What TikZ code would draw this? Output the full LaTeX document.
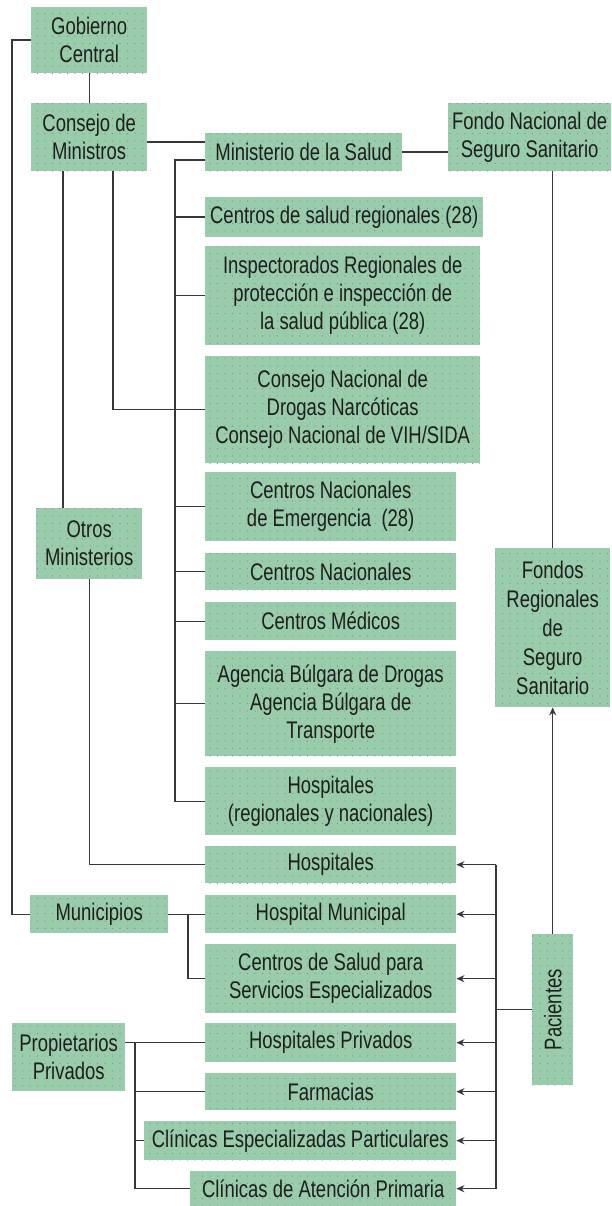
\documentclass[tikz,border=0pt]{standalone}
\usepackage{fontspec}
\usepackage{graphicx}
\setmainfont{Liberation Sans}[FakeStretch=0.77]
\usetikzlibrary{patterns.meta,arrows.meta,calc}
\definecolor{boxg}{RGB}{152,204,170}
\definecolor{dotc}{RGB}{140,135,155}
\definecolor{linec}{RGB}{55,55,55}
\definecolor{txt}{RGB}{30,30,30}
\tikzset{
  orgbox/.style={anchor=north west, inner sep=0pt, align=center, fill=boxg, text=txt,
    font=\fontsize{24}{28}\selectfont,
    postaction={pattern={Dots[distance=7.5pt,radius=0.7pt]}, pattern color=dotc}},
  conn/.style={draw=linec, line width=1.4pt},
  arr/.style={conn, -{Stealth[length=8pt,width=7pt]}},
}
\begin{document}
\begin{tikzpicture}[x=1pt,y=-1pt]
\useasboundingbox (0,0) rectangle (611,1206);
% boxes
\node[orgbox, minimum width=116pt, minimum height=66pt] (gob) at (31,7) {Gobierno\\Central};
\node[orgbox, minimum width=116pt, minimum height=68pt] (cons) at (31,103) {Consejo de\\Ministros};
\node[orgbox, minimum width=197pt, minimum height=38pt] (min) at (205,133) {Ministerio de la Salud};
\node[orgbox, minimum width=163pt, minimum height=68pt] (fondo) at (448,103) {Fondo Nacional de\\Seguro Sanitario};
\node[orgbox, minimum width=278pt, minimum height=40pt] (csr) at (205,197) {Centros de salud regionales (28)};
\node[orgbox, minimum width=275pt, minimum height=99pt] (insp) at (205,246) {Inspectorados Regionales de\\protección e inspección de\\la salud pública (28)};
\node[orgbox, minimum width=275pt, minimum height=107pt] (cnd) at (205,356) {Consejo Nacional de\\Drogas Narcóticas\\Consejo Nacional de VIH/SIDA};
\node[orgbox, minimum width=251pt, minimum height=69pt] (cne) at (205,472) {Centros Nacionales\\de Emergencia~ (28)};
\node[orgbox, minimum width=251pt, minimum height=37pt] (cn) at (205,553) {Centros Nacionales};
\node[orgbox, minimum width=251pt, minimum height=38pt] (cm) at (205,602) {Centros Médicos};
\node[orgbox, minimum width=251pt, minimum height=105pt] (abd) at (205,651) {Agencia Búlgara de Drogas\\Agencia Búlgara de\\Transporte};
\node[orgbox, minimum width=251pt, minimum height=68pt] (hrn) at (205,767) {Hospitales\\(regionales y nacionales)};
\node[orgbox, minimum width=251pt, minimum height=37pt] (hosp) at (205,846) {Hospitales};
\node[orgbox, minimum width=251pt, minimum height=38pt] (hmun) at (205,895) {Hospital Municipal};
\node[orgbox, minimum width=251pt, minimum height=69pt] (csse) at (205,944) {Centros de Salud para\\Servicios Especializados};
\node[orgbox, minimum width=251pt, minimum height=39pt] (hpriv) at (205,1023) {Hospitales Privados};
\node[orgbox, minimum width=251pt, minimum height=37pt] (farm) at (205,1073) {Farmacias};
\node[orgbox, minimum width=312pt, minimum height=39pt] (cesp) at (144,1121) {Clínicas Especializadas Particulares};
\node[orgbox, minimum width=266pt, minimum height=35pt] (cap) at (190,1171) {Clínicas de Atención Primaria};
\node[orgbox, minimum width=106pt, minimum height=71pt] (otros) at (36,508) {Otros\\Ministerios};
\node[orgbox, minimum width=138pt, minimum height=38pt] (mun) at (30,895) {Municipios};
\node[orgbox, minimum width=113pt, minimum height=68pt] (prop) at (12,1023) {Propietarios\\Privados};
\node[orgbox, minimum width=115pt, minimum height=159pt, font=\fontsize{24}{29}\selectfont] (fr) at (495,548) {Fondos\\Regionales\\de\\Seguro\\Sanitario};
\node[orgbox, minimum width=41pt, minimum height=151pt] (pac) at (532,934) {\rotatebox{90}{Pacientes}};
% helper coordinates
\coordinate (lb) at (12,38);
\coordinate (cx1) at (63,171);
\coordinate (cx2) at (113,171);
\coordinate (cy) at (0,142);
\coordinate (mtop) at (0,160);
\coordinate (mbus) at (175,160);
\coordinate (mb) at (188,914);
\coordinate (pb) at (135,1041);
\coordinate (rb) at (496,1010);
% connectors
\draw[conn] (gob.west) -- (gob.west -| lb) -- (lb |- mun.west) -- (mun.west);
\draw[conn] (gob.south) -- (cons.north);
\draw[conn] (cons.east |- cy) -- (min.west |- cy);
\draw[conn] (min.west |- mtop) -- (mbus) -- (mbus |- hrn.west) -- (hrn.west);
\foreach \n in {csr,insp,cnd,cne,cn,cm,abd} \draw[conn] (mbus |- \n.west) -- (\n.west);
\draw[conn] (cons.south -| cx1) -- (otros.north -| cx1);
\draw[conn] (cons.south -| cx2) -- (cx2 |- cnd.west) -- (mbus |- cnd.west);
\draw[conn] (otros.south) -- (otros.south |- hosp.west) -- (hosp.west);
\draw[conn] (mun.east) -- (hmun.west);
\draw[conn] (mb) -- (mb |- csse.west) -- (csse.west);
\draw[conn] (prop.east |- hpriv.west) -- (hpriv.west);
\draw[conn] (pb |- hpriv.west) -- (pb |- cap.west) -- (cap.west);
\foreach \n in {farm,cesp} \draw[conn] (pb |- \n.west) -- (\n.west);
\draw[conn] (min.east) -- (min.east -| fondo.west);
\draw[conn] (fr.north |- fondo.south) -- (fr.north);
\draw[arr] (pac.north) -- (fr.south);
\draw[conn] (pac.west) -- (pac.west -| rb);
\draw[conn] (rb |- hosp.east) -- (rb |- cap.east);
\foreach \n in {hosp,hmun,csse,hpriv,farm,cesp,cap} \draw[arr] (rb |- \n.east) -- (\n.east);
\end{tikzpicture}
\end{document}
